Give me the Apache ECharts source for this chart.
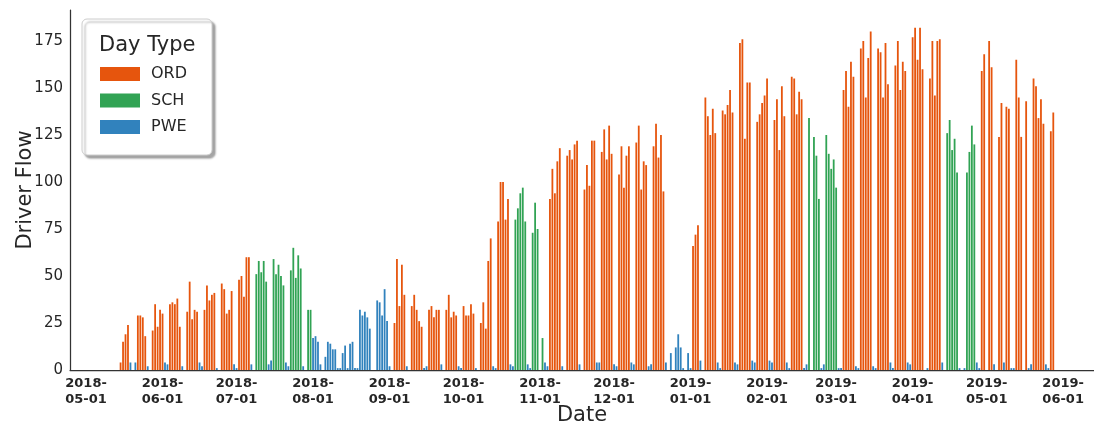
<!DOCTYPE html>
<html>
<head>
<meta charset="utf-8">
<script src="https://cdn.jsdelivr.net/npm/echarts@6/dist/echarts.min.js"></script>
<style>
  html, body { margin: 0; padding: 0; background: #fff; }
  #chart { width: 1094px; height: 425px; }
</style>
</head>
<body>
<div id="chart"></div>
<script>
// Daily driver flow, one row per week (Monday .. Sunday); null = no record
const firstMonday = '2018-05-14';
const flow = [
  [null, 4, 15, 19, 24, 4, null],
  [4, 29, 29, 28, 18, 2, null],
  [21, 35, 23, 32, 30, 4, 3],
  [35, 36, 35, 38, 23, 2, null],
  [31, 47, 27, 32, 31, 4, 2],
  [32, 45, 37, 40, 41, 1, null],
  [46, 43, 30, 32, 42, 3, 1],
  [48, 50, 39, 60, 60, 3, null],
  [51, 58, 52, 58, 47, 3, 5],
  [59, 51, 56, 50, 45, 4, 2],
  [53, 65, 49, 61, 54, 2, null],
  [32, 32, 17, 18, 15, 3, null],
  [7, 15, 14, 11, 11, 1, 1],
  [9, 13, 1, 14, 15, 1, 1],
  [32, 29, 31, 28, 22, null, null],
  [37, 36, 29, 43, 26, 2, null],
  [25, 59, 34, 56, 40, 2, null],
  [34, 40, 32, 26, 23, 1, 2],
  [32, 34, 28, 32, 32, 3, null],
  [32, 40, 28, 31, 29, 2, 1],
  [34, 29, 29, 35, 30, 1, null],
  [25, 36, 22, 58, 70, 2, 1],
  [79, 100, 100, 80, 91, 3, 2],
  [80, 86, 94, 97, 79, 3, 1],
  [73, 89, 75, null, 17, 4, 2],
  [91, 107, 94, 111, 118, 2, null],
  [114, 117, 112, 120, 122, 3, null],
  [96, 109, 98, 122, 122, 4, 4],
  [116, 128, 112, 130, 115, 3, 2],
  [104, 119, 97, 114, 119, 4, 3],
  [121, 130, 96, 111, 109, 2, 3],
  [119, 131, 113, 125, 95, 4, null],
  [9, null, 12, 19, 12, 1, null],
  [9, 1, 66, 72, 77, 5, null],
  [145, 135, 125, 139, 126, 4, 1],
  [138, 136, 141, 149, 137, 4, 3],
  [174, 176, 123, 153, 153, 5, 4],
  [132, 136, 142, 146, 155, 5, 4],
  [133, 144, 117, 151, 135, 4, 1],
  [156, 155, 136, 148, 144, 1, 3],
  [134, null, 124, 114, 91, 1, 3],
  [125, 115, 107, 112, 97, 1, 1],
  [149, 159, 140, 164, 156, 2, 1],
  [171, 175, 145, 166, 180, 2, 1],
  [171, 169, 145, 174, 152, 4, 1],
  [162, 175, 149, 164, 159, 4, 3],
  [177, 182, 165, 182, 160, null, 1],
  [155, 175, 146, 175, 176, 4, null],
  [126, 133, 117, 123, 105, 1, null],
  [1, 105, 116, 130, 120, 4, 1],
  [159, 168, null, 175, 161, 3, null],
  [124, 142, 4, 140, 139, 1, 1],
  [165, 145, 124, null, 143, 1, 3],
  [155, 151, 134, 144, 131, 3, 1],
  [127, 137]
];
// Day type per day of each week: O = ORD, S = SCH, P = PWE
const dayType = [
  'POOOOPP', 'POOOOPP', 'OOOOOPP', 'OOOOOPP', 'OOOOOPP', 'OOOOOPP', 'OOOOOPP', 'OOOOOPP',
  'SSSSSPP', 'SSSSSPP', 'SSSSSPP', 'SSPPPPP', 'PPPPPPP', 'PPPPPPP', 'PPPPPPP', 'PPPPPPP',
  'OOOOOPP', 'OOOOOPP', 'OOOOOPP', 'OOOOOPP', 'OOOOOPP', 'OOOOOPP', 'OOOOOPP', 'SSSSSPP',
  'SSSPSPP', 'OOOOOPP', 'OOOOOPP', 'OOOOOPP', 'OOOOOPP', 'OOOOOPP', 'OOOOOPP', 'OOOOOPP',
  'PPPPPPP', 'PPOOOPP', 'OOOOOPP', 'OOOOOPP', 'OOOOOPP', 'OOOOOPP', 'OOOOOPP', 'OOOOOPP',
  'SSSSSPP', 'SSSSSPP', 'OOOOOPP', 'OOOOOPP', 'OOOOOPP', 'OOOOOPP', 'OOOOOPP', 'OOOOOPP',
  'SSSSSPP', 'PSSSSPP', 'OOPOOPP', 'OOPOOPP', 'OOOOOPP', 'OOOOOPP', 'OO'
];
const typeNames = { O: 'ORD', S: 'SCH', P: 'PWE' };
const typeColors = { ORD: '#e6550d', SCH: '#31a354', PWE: '#3182bd' };
const axisStart = '2018-04-25';
const axisEnd = '2019-06-13';
const tickLabels = [
  '2018-05-01', '2018-06-01', '2018-07-01', '2018-08-01', '2018-09-01', '2018-10-01',
  '2018-11-01', '2018-12-01', '2019-01-01', '2019-02-01', '2019-03-01', '2019-04-01',
  '2019-05-01', '2019-06-01'
];

function addDays(iso, n) {
  return new Date(Date.parse(iso + 'T00:00:00Z') + n * 86400000).toISOString().slice(0, 10);
}

// one category per calendar day
const days = [];
for (let d = axisStart; d <= axisEnd; d = addDays(d, 1)) days.push(d);
const dayIndex = {};
days.forEach((d, i) => { dayIndex[d] = i; });

const seriesData = { ORD: days.map(() => null), SCH: days.map(() => null), PWE: days.map(() => null) };
flow.forEach((week, w) => {
  week.forEach((v, k) => {
    if (v === null) return;
    const date = addDays(firstMonday, w * 7 + k);
    const name = typeNames[dayType[w][k]];
    seriesData[name][dayIndex[date]] = v;
  });
});

const textColor = '#262626';
const chart = echarts.init(document.getElementById('chart'), null, { renderer: 'canvas' });
chart.setOption({
  animation: false,
  backgroundColor: '#ffffff',
  textStyle: { fontFamily: 'DejaVu Sans' },
  grid: { left: 70, right: 0, top: 10, bottom: 55, containLabel: false, outerBoundsMode: 'none' },
  xAxis: {
    type: 'category',
    data: days,
    boundaryGap: true,
    name: 'Date',
    nameLocation: 'middle',
    nameGap: 35,
    nameMoveOverlap: false,
    nameTextStyle: { fontSize: 21, color: textColor, fontFamily: 'DejaVu Sans' },
    axisLine: { show: true, lineStyle: { color: '#333333', width: 1.25 } },
    axisTick: { show: false },
    axisLabel: {
      interval: (i, v) => tickLabels.indexOf(v) >= 0,
      formatter: v => v.slice(0, 5) + '\n' + v.slice(5),
      fontSize: 13,
      fontWeight: 'bold',
      lineHeight: 16,
      margin: 6,
      color: textColor,
      fontFamily: 'DejaVu Sans'
    },
    splitLine: { show: false }
  },
  yAxis: {
    type: 'value',
    min: 0,
    max: 191.5,
    interval: 25,
    name: 'Driver Flow',
    nameLocation: 'middle',
    nameGap: 34,
    nameMoveOverlap: false,
    nameTextStyle: { fontSize: 21, color: textColor, fontFamily: 'DejaVu Sans' },
    axisLine: { show: true, lineStyle: { color: '#333333', width: 1.25 } },
    axisTick: { show: false },
    splitLine: { show: false },
    axisLabel: {
      fontSize: 15,
      color: textColor,
      margin: 7,
      showMaxLabel: false,
      formatter: v => (v % 25 === 0 ? String(v) : ''),
      fontFamily: 'DejaVu Sans'
    }
  },
  legend: {
    orient: 'vertical',
    left: 95,
    top: 61,
    icon: 'rect',
    itemWidth: 40,
    itemHeight: 14,
    itemGap: 10.5,
    textStyle: { fontSize: 16, color: textColor, padding: [0, 0, 0, 6], fontFamily: 'DejaVu Sans' },
    data: ['ORD', 'SCH', 'PWE']
  },
  graphic: [
    {
      type: 'rect',
      z: -1,
      zlevel: 0,
      shape: { x: 82, y: 19, width: 130, height: 136, r: 5 },
      style: {
        fill: '#ffffff',
        stroke: '#cccccc',
        lineWidth: 1,
        shadowColor: 'rgba(0,0,0,0.35)',
        shadowOffsetX: 3,
        shadowOffsetY: 3,
        shadowBlur: 2
      }
    },
    {
      type: 'text',
      left: 99,
      top: 35,
      style: { text: 'Day Type', fontSize: 21, fill: textColor, fontFamily: 'DejaVu Sans' }
    }
  ],
  series: ['ORD', 'SCH', 'PWE'].map(name => ({
    name: name,
    type: 'bar',
    data: seriesData[name],
    barWidth: 1.8,
    barGap: '-100%',
    itemStyle: { color: typeColors[name] }
  }))
});
</script>
</body>
</html>
